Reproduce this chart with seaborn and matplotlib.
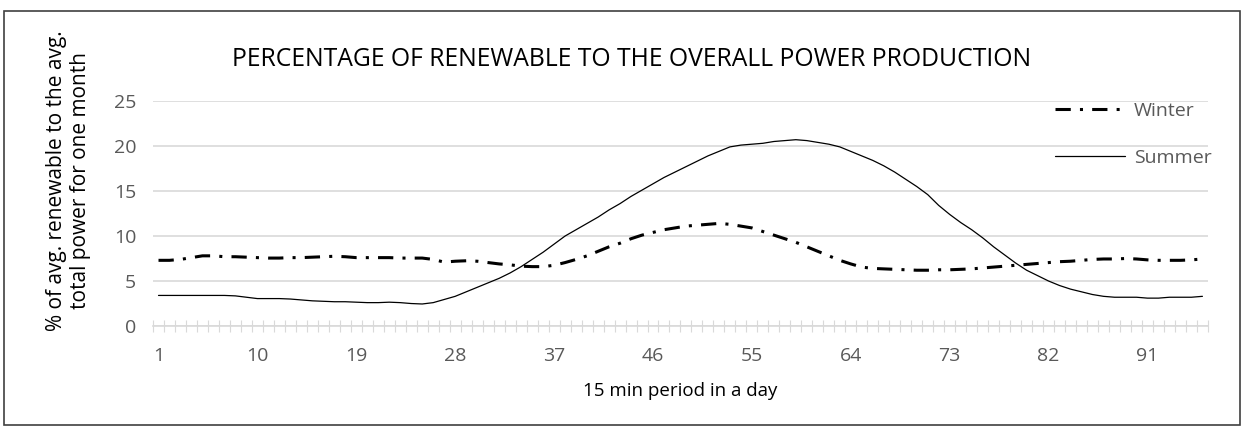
"""Percentage of renewable to the overall power production (winter vs summer)."""
import matplotlib
matplotlib.use("Agg")
import matplotlib.pyplot as plt
import numpy as np
import pandas as pd
import seaborn as sns
from matplotlib.patches import Rectangle
from matplotlib.ticker import FixedLocator

periods = list(range(1, 97))
tick_labels = [1, 10, 19, 28, 37, 46, 55, 64, 73, 82, 91]

winter = [7.3, 7.3, 7.4, 7.6, 7.8, 7.8, 7.7, 7.7, 7.65, 7.6,
          7.55, 7.55, 7.6, 7.6, 7.65, 7.7, 7.75, 7.7, 7.6, 7.6,
          7.6, 7.6, 7.55, 7.55, 7.55, 7.4, 7.1, 7.2, 7.25, 7.2,
          7.05, 6.9, 6.8, 6.65, 6.6, 6.6, 6.75, 7.05, 7.4, 7.8,
          8.3, 8.8, 9.2, 9.7, 10.1, 10.4, 10.7, 10.9, 11.1, 11.2,
          11.3, 11.4, 11.3, 11.1, 10.9, 10.5, 10.1, 9.7, 9.3, 8.8,
          8.3, 7.8, 7.3, 6.9, 6.55, 6.4, 6.35, 6.3, 6.25, 6.2,
          6.2, 6.25, 6.25, 6.3, 6.35, 6.45, 6.55, 6.65, 6.75, 6.85,
          6.95, 7.05, 7.15, 7.2, 7.3, 7.4, 7.45, 7.45, 7.5, 7.45,
          7.35, 7.3, 7.3, 7.3, 7.35, 7.45]

summer = [3.4, 3.4, 3.4, 3.4, 3.4, 3.4, 3.4, 3.35, 3.2, 3.05,
          3.05, 3.05, 3.0, 2.9, 2.8, 2.75, 2.7, 2.7, 2.65, 2.6,
          2.6, 2.65, 2.6, 2.5, 2.45, 2.6, 2.95, 3.3, 3.8, 4.3,
          4.8, 5.3, 5.9, 6.6, 7.4, 8.2, 9.1, 10.0, 10.7, 11.4,
          12.1, 12.9, 13.6, 14.4, 15.1, 15.8, 16.5, 17.1, 17.7, 18.3,
          18.9, 19.4, 19.9, 20.1, 20.2, 20.3, 20.5, 20.6, 20.7, 20.6,
          20.4, 20.2, 19.9, 19.4, 18.9, 18.4, 17.8, 17.1, 16.3, 15.5,
          14.6, 13.4, 12.4, 11.5, 10.7, 9.8, 8.8, 7.9, 7.0, 6.2,
          5.6, 5.0, 4.5, 4.1, 3.8, 3.5, 3.3, 3.2, 3.2, 3.2,
          3.1, 3.1, 3.2, 3.2, 3.2, 3.3]

sns.set_theme(style="white")
plt.rcParams["font.family"] = ["Open Sans", "DejaVu Sans"]

df = pd.DataFrame({"period": periods, "Winter": winter, "Summer": summer})

fig = plt.figure(figsize=(12.44, 4.29), dpi=100)
ax = fig.add_axes([0.123, 0.240, 0.848, 0.5246])

grey = "#595959"
sns.lineplot(data=df, x="period", y="Winter", ax=ax, color="black",
             linewidth=2.2, linestyle=(0, (5, 3, 1, 3)), label="Winter")
sns.lineplot(data=df, x="period", y="Summer", ax=ax, color="black",
             linewidth=0.9, label="Summer")

ax.set_xlim(0.5, 96.5)
ax.set_ylim(0, 25)
ax.set_yticks([0, 5, 10, 15, 20, 25])
ax.set_xticks(tick_labels)
ax.xaxis.set_minor_locator(FixedLocator(np.arange(0.5, 97, 1)))
ax.tick_params(axis="x", which="major", length=0, pad=15, labelsize=14, labelcolor=grey)
ax.tick_params(axis="x", which="minor", direction="inout", length=8, width=0.8,
               color="#d9d9d9", bottom=True)
ax.tick_params(axis="y", length=0, pad=12, labelsize=14, labelcolor=grey)
ax.grid(axis="y", color="#d9d9d9", linewidth=1.2)
for side in ["top", "right", "left"]:
    ax.spines[side].set_visible(False)
ax.spines["bottom"].set_color("#d9d9d9")
ax.spines["bottom"].set_linewidth(1.2)

ax.set_xlabel("15 min period in a day", fontsize=13.5, color="black", labelpad=12)
ax.set_ylabel("% of avg. renewable to the avg.\ntotal power for one month",
              fontsize=15, color="black", linespacing=1.15)
ax.yaxis.set_label_coords(-0.059, 0.645)

fig.text(0.508, 0.862, "PERCENTAGE OF RENEWABLE TO THE OVERALL POWER PRODUCTION",
         ha="center", va="center", fontsize=17.8, color="black")

leg = ax.legend(loc="upper right", bbox_to_anchor=(1.02, 1.075), frameon=False,
                fontsize=14, handlelength=3.6, labelspacing=1.5, handletextpad=0.45)
for t in leg.get_texts():
    t.set_color(grey)

fig.patches.append(Rectangle((0.003, 0.01), 0.994, 0.965, transform=fig.transFigure,
                             fill=False, edgecolor="#404040", linewidth=1.2))

fig.savefig("out.png", dpi=100)
plt.close(fig)
